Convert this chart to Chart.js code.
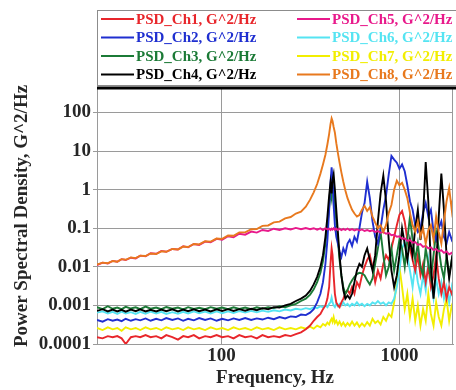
<!DOCTYPE html>
<html>
<head>
<meta charset="utf-8">
<script src="https://cdn.jsdelivr.net/npm/chart.js@4.4.1/dist/chart.umd.min.js"></script>
<style>
  html, body { margin: 0; padding: 0; background: #fff; }
  #wrap { width: 456px; height: 390px; }
</style>
</head>
<body>
<div id="wrap"><canvas id="psdChart" width="456" height="390"></canvas></div>
<script>
const freq = [
    20, 21.5, 23, 24.5, 26, 27.5, 29, 31, 33, 35,
    37.5, 40, 43, 46, 49, 53, 57, 61, 65, 70,
    75, 81, 87, 94, 101, 109, 117, 126, 136, 147,
    158, 170, 183, 197, 212, 228, 245, 262, 280, 298,
    315, 330, 345, 360, 372, 384, 394, 403, 410, 416,
    421, 427, 434, 442, 451, 461, 472, 484, 497, 511,
    526, 542, 559, 577, 596, 616, 637, 659, 682, 706,
    731, 757, 784, 812, 841, 871, 902, 934, 967, 1000,
    1035, 1071, 1108, 1146, 1186, 1227, 1269, 1313, 1358, 1405,
    1453, 1503, 1555, 1608, 1663, 1720, 1779, 1840, 1903, 1968,
    2000
];

const psdCh1 = [
    1.5e-4, 1.4e-4, 1.6e-4, 1.5e-4, 1.6e-4, 1.4e-4, 1.0e-4, 1.5e-4, 1.6e-4, 1.5e-4,
    1.7e-4, 1.5e-4, 1.6e-4, 1.4e-4, 1.7e-4, 1.5e-4, 1.3e-4, 1.6e-4, 1.5e-4, 1.7e-4,
    1.4e-4, 1.6e-4, 1.5e-4, 1.7e-4, 1.5e-4, 1.6e-4, 1.4e-4, 1.7e-4, 1.5e-4, 1.6e-4,
    1.4e-4, 1.7e-4, 1.5e-4, 1.6e-4, 1.5e-4, 1.7e-4, 1.6e-4, 1.8e-4, 2.0e-4, 2.4e-4,
    3e-4, 4e-4, 5e-4, 6e-4, 8e-4, 1e-3, 1.5e-3, 3e-3, 0.012, 0.03,
    0.02, 0.006, 0.002, 1.2e-3, 1e-3, 9e-4, 1.2e-3, 1.5e-3, 2e-3, 2.5e-3,
    2e-3, 3e-3, 2e-3, 4e-3, 3e-3, 6e-3, 0.01, 0.015, 0.02, 0.01,
    4e-3, 8e-3, 5e-3, 0.012, 0.02, 0.015, 0.03, 0.06, 0.12, 0.22,
    0.28, 0.15, 0.05, 0.03, 0.015, 8e-3, 0.02, 6e-3, 0.012, 4e-3,
    0.01, 3e-3, 6e-3, 0.02, 5e-3, 2e-3, 4e-3, 1.5e-3, 3e-3, 2e-3,
    2.5e-3
];

const psdCh2 = [
    4.2e-4, 3.8e-4, 4.4e-4, 4.0e-4, 4.3e-4, 3.9e-4, 4.5e-4, 4.0e-4, 4.4e-4, 4.1e-4,
    4.6e-4, 4.0e-4, 4.5e-4, 4.1e-4, 4.7e-4, 4.2e-4, 4.6e-4, 4.0e-4, 4.5e-4, 4.1e-4,
    4.7e-4, 4.2e-4, 4.6e-4, 4.0e-4, 4.5e-4, 4.1e-4, 4.6e-4, 4.2e-4, 4.7e-4, 4.2e-4,
    4.6e-4, 4.3e-4, 4.8e-4, 4.4e-4, 5.0e-4, 4.6e-4, 5.2e-4, 5.0e-4, 5.8e-4, 5.6e-4,
    6.5e-4, 8e-4, 1.2e-3, 2e-3, 4e-3, 0.012, 0.05, 0.3, 1.5, 3.8,
    2.0, 0.4, 0.12, 0.06, 0.04, 0.025, 0.018, 0.03, 0.022, 0.04,
    0.05, 0.035, 0.06, 0.045, 0.1, 0.25, 0.45, 1.6, 0.6, 0.15,
    0.06, 0.04, 0.1, 0.3, 0.7, 2.5, 7.5, 6, 5, 3.5,
    4.5, 3, 1.3, 0.5, 0.3, 0.12, 0.08, 0.1, 0.25, 0.45,
    0.2, 0.3, 0.08, 0.05, 0.1, 0.15, 0.06, 0.04, 0.08, 0.05,
    0.06
];

const psdCh3 = [
    9e-4, 8e-4, 9.5e-4, 8.2e-4, 8.8e-4, 8e-4, 9.2e-4, 8.3e-4, 8.9e-4, 8e-4,
    9.3e-4, 8.2e-4, 8.8e-4, 8e-4, 9.1e-4, 8.2e-4, 8.8e-4, 7.9e-4, 9e-4, 8.1e-4,
    8.7e-4, 8e-4, 9e-4, 8.2e-4, 8.8e-4, 8e-4, 8.9e-4, 8.1e-4, 8.8e-4, 8e-4,
    8.9e-4, 8.2e-4, 9e-4, 8.5e-4, 9.5e-4, 9e-4, 1e-3, 1.1e-3, 1.3e-3, 1.5e-3,
    1.9e-3, 2.6e-3, 4e-3, 7e-3, 0.014, 0.04, 0.12, 0.35, 0.9, 0.6,
    1.2, 0.9, 0.4, 0.15, 0.05, 0.015, 6e-3, 3e-3, 2e-3, 2.5e-3,
    3.5e-3, 4.5e-3, 5.5e-3, 6.5e-3, 7e-3, 6.8e-3, 6e-3, 4.5e-3, 3.5e-3, 5e-3,
    0.012, 0.03, 0.08, 0.02, 6e-3, 0.01, 0.03, 8e-3, 0.02, 0.05,
    0.03, 0.01, 0.05, 0.2, 0.05, 0.015, 0.04, 0.01, 6e-3, 0.03,
    0.012, 5e-3, 0.02, 0.08, 0.03, 0.01, 5e-3, 0.02, 6e-3, 0.015,
    0.01
];

const psdCh4 = [
    7.2e-4, 8e-4, 7e-4, 7.8e-4, 7e-4, 7.7e-4, 6.9e-4, 7.8e-4, 7.1e-4, 7.9e-4,
    7e-4, 7.7e-4, 7e-4, 7.8e-4, 7.1e-4, 7.9e-4, 7e-4, 7.8e-4, 7.1e-4, 7.9e-4,
    7.1e-4, 7.8e-4, 7e-4, 7.9e-4, 7.2e-4, 8e-4, 7.2e-4, 8e-4, 7.3e-4, 8.2e-4,
    7.5e-4, 8.5e-4, 8e-4, 9e-4, 8.8e-4, 1e-3, 1.1e-3, 1.3e-3, 1.5e-3, 1.8e-3,
    2.4e-3, 3.5e-3, 5.5e-3, 0.01, 0.02, 0.06, 0.2, 0.7, 1.5, 0.8,
    1.8, 2.5, 1.0, 0.3, 0.08, 0.02, 6e-3, 2.5e-3, 1.5e-3, 1.8e-3,
    1.5e-3, 2e-3, 4e-3, 8e-3, 0.012, 0.01, 0.02, 0.03, 0.015, 8e-3,
    0.02, 0.15, 0.8, 2.3, 0.5, 0.05, 8e-3, 3e-3, 6e-3, 0.02,
    0.1, 0.04, 0.015, 0.05, 0.02, 0.1, 0.3, 0.05, 0.2, 5.2,
    0.5, 0.01, 1.5e-3, 0.01, 0.2, 2.6, 0.3, 0.02, 5e-3, 0.015,
    0.01
];

const psdCh5 = [
    0.011, 0.0128, 0.0122, 0.0142, 0.0135, 0.0158, 0.015, 0.0172, 0.0165, 0.0195,
    0.0188, 0.0225, 0.0218, 0.0258, 0.0245, 0.029, 0.028, 0.034, 0.032, 0.039,
    0.037, 0.045, 0.043, 0.053, 0.05, 0.062, 0.058, 0.072, 0.068, 0.082,
    0.077, 0.09, 0.085, 0.097, 0.09, 0.1, 0.093, 0.102, 0.094, 0.101,
    0.094, 0.1, 0.092, 0.099, 0.09, 0.1, 0.093, 0.098, 0.09, 0.097,
    0.092, 0.1, 0.091, 0.098, 0.09, 0.097, 0.089, 0.096, 0.09, 0.098,
    0.089, 0.095, 0.088, 0.094, 0.087, 0.093, 0.085, 0.09, 0.084, 0.088,
    0.08, 0.084, 0.076, 0.08, 0.072, 0.075, 0.066, 0.068, 0.06, 0.062,
    0.053, 0.055, 0.047, 0.049, 0.042, 0.044, 0.037, 0.039, 0.033, 0.035,
    0.03, 0.032, 0.027, 0.029, 0.025, 0.027, 0.023, 0.025, 0.021, 0.023,
    0.021
];

const psdCh6 = [
    6.5e-4, 7e-4, 6.2e-4, 6.8e-4, 6e-4, 6.9e-4, 6.2e-4, 6.7e-4, 6e-4, 6.8e-4,
    6.1e-4, 6.9e-4, 6.2e-4, 6.8e-4, 6e-4, 6.7e-4, 6.1e-4, 6.8e-4, 6.2e-4, 7e-4,
    6.3e-4, 6.9e-4, 6.2e-4, 7e-4, 6.3e-4, 7e-4, 6.4e-4, 7.1e-4, 6.5e-4, 7.2e-4,
    6.6e-4, 7.3e-4, 6.8e-4, 7.5e-4, 7e-4, 7.8e-4, 7.4e-4, 8.2e-4, 7.8e-4, 8.5e-4,
    8e-4, 9e-4, 8.5e-4, 9.5e-4, 9e-4, 1e-3, 9e-4, 1.1e-3, 1.2e-3, 1.6e-3,
    1.2e-3, 1e-3, 9e-4, 1.1e-3, 9.5e-4, 1.1e-3, 1e-3, 1.2e-3, 1e-3, 1.1e-3,
    9.5e-4, 1.1e-3, 1e-3, 1.2e-3, 1e-3, 1.1e-3, 9.5e-4, 1.1e-3, 1e-3, 1.2e-3,
    1.1e-3, 1.3e-3, 1.1e-3, 1.2e-3, 1e-3, 1.2e-3, 1.1e-3, 1.5e-3, 3e-3, 8e-3,
    0.03, 0.045, 0.02, 8e-3, 3e-3, 0.012, 4e-3, 2e-3, 6e-3, 2.5e-3,
    0.015, 4e-3, 1.5e-3, 5e-3, 2e-3, 4e-3, 1.5e-3, 3e-3, 1.2e-3, 3e-3,
    2e-3
];

const psdCh7 = [
    2.6e-4, 2.3e-4, 2.7e-4, 2.4e-4, 2.6e-4, 2.2e-4, 2.7e-4, 2.4e-4, 2.6e-4, 2.3e-4,
    2.7e-4, 2.4e-4, 2.6e-4, 2.3e-4, 2.7e-4, 2.4e-4, 2.6e-4, 2.3e-4, 2.7e-4, 2.4e-4,
    2.6e-4, 2.3e-4, 2.7e-4, 2.4e-4, 2.6e-4, 2.3e-4, 2.7e-4, 2.4e-4, 2.6e-4, 2.3e-4,
    2.7e-4, 2.4e-4, 2.6e-4, 2.3e-4, 2.7e-4, 2.4e-4, 2.6e-4, 2.4e-4, 2.7e-4, 2.5e-4,
    2.8e-4, 2.5e-4, 3e-4, 2.7e-4, 3.3e-4, 3e-4, 3.6e-4, 3.2e-4, 4e-4, 4.5e-4,
    3.8e-4, 5e-4, 3.5e-4, 4e-4, 3.2e-4, 3.8e-4, 3e-4, 3.6e-4, 2.9e-4, 3.5e-4,
    3e-4, 3.8e-4, 3e-4, 3.6e-4, 2.8e-4, 3.4e-4, 2.9e-4, 3.7e-4, 3e-4, 4.5e-4,
    3.5e-4, 4e-4, 3.2e-4, 5e-4, 4e-4, 6e-4, 5e-4, 1.2e-3, 4e-3, 0.01,
    3e-3, 8e-4, 2e-3, 5e-4, 1.5e-3, 4e-4, 1e-3, 3e-4, 8e-4, 4e-4,
    2e-3, 6e-4, 3e-4, 1.2e-3, 5e-4, 3e-4, 8e-4, 1.5e-3, 4e-4, 1e-3,
    1.2e-3
];

const psdCh8 = [
    0.0115, 0.0128, 0.0124, 0.0142, 0.0136, 0.0158, 0.0152, 0.0175, 0.0168, 0.0195,
    0.019, 0.0222, 0.0215, 0.0252, 0.0245, 0.029, 0.0282, 0.0335, 0.0325, 0.039,
    0.038, 0.046, 0.045, 0.054, 0.053, 0.065, 0.064, 0.078, 0.078, 0.094,
    0.095, 0.115, 0.118, 0.142, 0.148, 0.18, 0.195, 0.24, 0.27, 0.36,
    0.55, 0.85, 1.4, 2.6, 4.5, 8, 15, 28, 50, 70,
    60, 42, 30, 16, 9, 5, 2.8, 1.6, 0.95, 0.6,
    0.42, 0.3, 0.24, 0.2, 0.22, 0.3, 0.38, 0.28, 0.35, 0.2,
    0.14, 0.1, 0.12, 0.08, 0.12, 0.25, 0.4, 1.0, 1.7, 1.3,
    1.5, 1.0, 0.6, 0.25, 0.12, 0.08, 0.15, 0.06, 0.1, 0.04,
    0.09, 0.12, 0.05, 0.2, 0.08, 0.04, 0.15, 0.5, 1.1, 0.3,
    0.6
];

const seriesNames = [
    'PSD_Ch1, G^2/Hz', 'PSD_Ch2, G^2/Hz', 'PSD_Ch3, G^2/Hz', 'PSD_Ch4, G^2/Hz',
    'PSD_Ch5, G^2/Hz', 'PSD_Ch6, G^2/Hz', 'PSD_Ch7, G^2/Hz', 'PSD_Ch8, G^2/Hz'
];
const seriesValues = [psdCh1, psdCh2, psdCh3, psdCh4, psdCh5, psdCh6, psdCh7, psdCh8];
const seriesColors = ['#e8262b', '#1f2fd0', '#1b7a36', '#000000', '#e8198b', '#55e4f2', '#f2ee00', '#e8791e'];
const drawOrder = [5, 3, 4, 2, 1, 6, 7, 0];

const xTicks = [100, 1000];
const yTicks = [0.0001, 0.001, 0.01, 0.1, 1, 10, 100];

const serif = '"Liberation Serif", "Times New Roman", serif';
const gridGray = '#9a9a9a';
const textColor = '#262626';

function toPoints(values) {
    return freq.map((f, i) => ({x: f, y: values[i]}));
}

const framePlugin = {
    id: 'frame',
    beforeDraw(chart) {
        const ctx = chart.ctx;
        ctx.save();
        ctx.fillStyle = '#fff';
        ctx.fillRect(0, 0, chart.width, chart.height);
        ctx.restore();
    },
    afterDatasetsDraw(chart) {
        const {ctx, chartArea: a} = chart;
        ctx.save();
        ctx.strokeStyle = gridGray;
        ctx.lineWidth = 1;
        ctx.beginPath();
        ctx.moveTo(a.right - 0.5, a.top);
        ctx.lineTo(a.right - 0.5, a.bottom);
        ctx.stroke();
        ctx.strokeStyle = '#000';
        ctx.lineWidth = 3;
        ctx.beginPath();
        ctx.moveTo(a.left, a.top);
        ctx.lineTo(chart.width, a.top);
        ctx.stroke();
        ctx.restore();
    }
};

const boxLegend = {
    id: 'boxLegend',
    afterDraw(chart) {
        const ctx = chart.ctx;
        const a = chart.chartArea;
        ctx.save();
        ctx.strokeStyle = '#8c8c8c';
        ctx.lineWidth = 1;
        ctx.strokeRect(a.left + 0.5, 10.5, chart.width, 75);
        ctx.font = 'bold 15px ' + serif;
        ctx.textBaseline = 'middle';
        ctx.textAlign = 'left';
        chart.data.datasets.forEach((ds, i) => {
            const col = Math.floor(i / 4);
            const row = i % 4;
            const x = col === 0 ? 101 : 297;
            const y = 19 + row * 18.5;
            ctx.strokeStyle = ds.borderColor;
            ctx.lineWidth = 2;
            ctx.beginPath();
            ctx.moveTo(x, y);
            ctx.lineTo(x + 33, y);
            ctx.stroke();
            ctx.fillStyle = ds.borderColor;
            ctx.fillText(ds.label, x + 35, y + 1);
        });
        ctx.restore();
    }
};

const datasets = seriesNames.map((name, i) => ({
    label: name,
    data: toPoints(seriesValues[i]),
    borderColor: seriesColors[i],
    backgroundColor: seriesColors[i],
    borderWidth: 1.9,
    pointRadius: 0,
    tension: 0,
    order: drawOrder[i]
}));

new Chart(document.getElementById('psdChart'), {
    type: 'line',
    data: {datasets},
    plugins: [framePlugin, boxLegend],
    options: {
        responsive: false,
        animation: false,
        events: [],
        layout: {padding: {top: 88, right: 3, bottom: 0, left: 0}},
        plugins: {
            legend: {display: false},
            tooltip: {enabled: false}
        },
        scales: {
            x: {
                type: 'logarithmic',
                min: 20,
                max: 2000,
                afterBuildTicks: s => { s.ticks = xTicks.map(v => ({value: v})); },
                afterFit: s => { s.height = 46; },
                ticks: {
                    color: textColor,
                    font: {family: serif, size: 19, weight: 'bold'},
                    padding: 1,
                    maxRotation: 0,
                    autoSkip: false,
                    callback: v => String(v)
                },
                grid: {color: gridGray, lineWidth: 1, drawTicks: false},
                border: {color: gridGray},
                title: {
                    display: true,
                    text: 'Frequency, Hz',
                    color: textColor,
                    font: {family: serif, size: 19, weight: 'bold'},
                    padding: {top: 0, bottom: 1}
                }
            },
            y: {
                type: 'logarithmic',
                min: 0.0001,
                max: 430,
                afterBuildTicks: s => { s.ticks = yTicks.map(v => ({value: v})); },
                afterFit: s => { s.width = 97; },
                ticks: {
                    color: textColor,
                    font: {family: serif, size: 19, weight: 'bold'},
                    padding: 2,
                    autoSkip: false,
                    callback: v => String(v)
                },
                grid: {color: gridGray, lineWidth: 1, tickLength: 4},
                border: {color: gridGray},
                title: {
                    display: true,
                    text: 'Power Spectral Density, G^2/Hz',
                    color: textColor,
                    font: {family: serif, size: 19, weight: 'bold'},
                    padding: {top: 11, bottom: 0}
                }
            }
        }
    }
});
</script>
</body>
</html>
